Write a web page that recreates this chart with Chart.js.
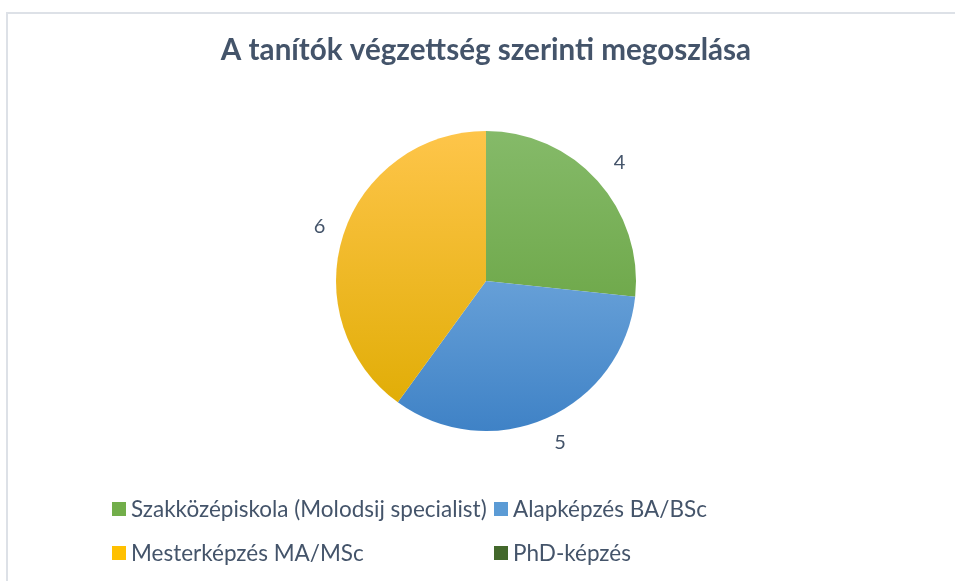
<!DOCTYPE html>
<html>
<head>
<meta charset="utf-8">
<script src="https://cdn.jsdelivr.net/npm/chart.js@4"></script>
<style>
  html, body { margin: 0; padding: 0; background: #fff; }
  #wrap { width: 955px; height: 581px; }
</style>
</head>
<body>
<div id="wrap"><canvas id="pieChart" width="955" height="581"></canvas></div>
<script>
// data
const chartTitle = 'A tanítók végzettség szerinti megoszlása';
const categories = ['Szakközépiskola (Molodsij specialist)', 'Alapképzés BA/BSc', 'Mesterképzés MA/MSc', 'PhD-képzés'];
const teacherCounts = [4, 5, 6, 0];
// light (top) and dark (bottom) shade for each slice
const sliceTop = ['#85ba69', '#8dbde9', '#fec54a', '#4d7733'];
const sliceBottom = ['#5f9c35', '#3f82c6', '#deab00', '#3d6026'];
const legendSwatch = ['#72ae4a', '#5b9bd5', '#ffc000', '#43682b'];

const textColor = '#44546a';
const fontName = 'Lato, "Open Sans", sans-serif';

function sliceFill(ctx) {
    const chart = ctx.chart;
    const area = chart.chartArea;
    if (!area) return legendSwatch[ctx.dataIndex];
    const g = chart.ctx.createLinearGradient(0, area.top, 0, area.bottom);
    g.addColorStop(0, sliceTop[ctx.dataIndex]);
    g.addColorStop(1, sliceBottom[ctx.dataIndex]);
    return g;
}

// outer frame of the chart object
const framePlugin = {
    id: 'frame',
    beforeDraw(chart) {
        const c = chart.ctx;
        c.save();
        c.strokeStyle = '#dde1e7';
        c.lineWidth = 2;
        c.strokeRect(7, 13, 1000, 1000);
        c.restore();
    }
};

// value labels outside each slice
const outsideLabels = {
    id: 'outsideLabels',
    afterDatasetsDraw(chart) {
        const c = chart.ctx;
        const meta = chart.getDatasetMeta(0);
        c.save();
        c.fillStyle = textColor;
        c.font = '20px ' + fontName;
        c.textAlign = 'center';
        c.textBaseline = 'middle';
        meta.data.forEach((arc, i) => {
            if (!teacherCounts[i]) return;
            const mid = (arc.startAngle + arc.endAngle) / 2;
            const r = arc.outerRadius + 27;
            c.fillText(String(teacherCounts[i]), arc.x + Math.cos(mid) * r + 2, arc.y + Math.sin(mid) * r);
        });
        c.restore();
    }
};

// legend in two rows / two columns like the office chart
const legendSpots = [[112, 517], [494, 517], [112, 561], [494, 561]];
const gridLegend = {
    id: 'gridLegend',
    afterDraw(chart) {
        const c = chart.ctx;
        c.save();
        c.font = '22.5px ' + fontName;
        c.textBaseline = 'alphabetic';
        c.textAlign = 'left';
        categories.forEach((name, i) => {
            const [x, y] = legendSpots[i];
            c.fillStyle = legendSwatch[i];
            c.fillRect(x, y - 15, 14, 14);
            c.fillStyle = textColor;
            c.fillText(name, x + 19, y);
        });
        c.restore();
    }
};

new Chart(document.getElementById('pieChart'), {
    type: 'pie',
    data: {
        labels: categories,
        datasets: [{
            data: teacherCounts,
            backgroundColor: sliceFill,
            borderWidth: 0
        }]
    },
    options: {
        responsive: false,
        animation: false,
        layout: {
            padding: { top: 0, bottom: 150, left: 17, right: 0 }
        },
        plugins: {
            legend: { display: false },
            tooltip: { enabled: false },
            title: {
                display: true,
                text: chartTitle,
                color: textColor,
                font: { family: fontName, size: 29.6, weight: 'bold', lineHeight: 1.2 },
                padding: { top: 33, bottom: 62.5 }
            }
        }
    },
    plugins: [framePlugin, outsideLabels, gridLegend]
});
</script>
</body>
</html>
